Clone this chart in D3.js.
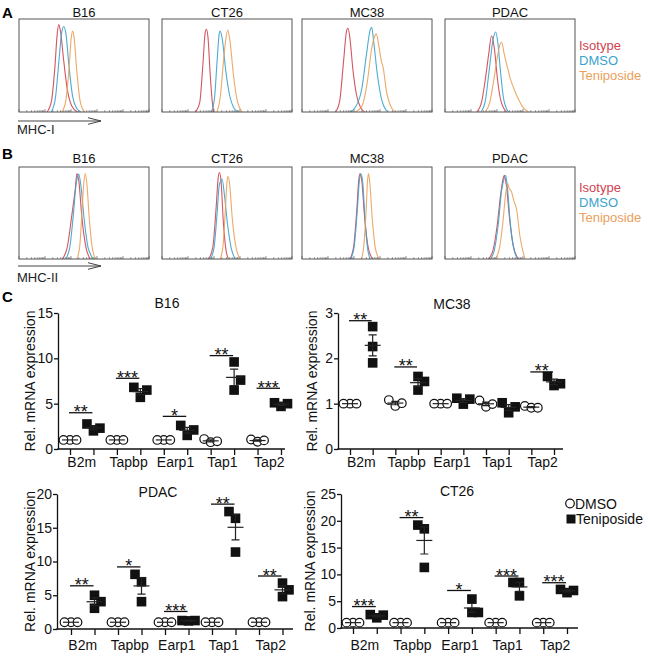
<!DOCTYPE html>
<html><head><meta charset="utf-8">
<script src="https://cdn.jsdelivr.net/npm/d3@7"></script>
<style>
body{margin:0;background:#fff}
svg{display:block}
text{font-family:"Liberation Sans",Arial,Helvetica,sans-serif}
</style>
</head><body>
<svg id="fig" width="650" height="665"></svg>
<script>
// ---------------- DATA ----------------
const cellLines = ["B16","CT26","MC38","PDAC"];
const flowSeries = ["Isotype","DMSO","Teniposide"];
// each curve: [log10 fluorescence, % of max]
const mhcIIsotype = [
  [[1.08,0],[1.25,12],[1.38,48],[1.47,84],[1.53,94],[1.60,86],[1.72,55],[1.86,24],[2.02,7],[2.25,0]],
  [[1.28,0],[1.45,10],[1.57,50],[1.66,85],[1.71,89],[1.77,80],[1.85,42],[1.93,12],[1.99,0]],
  [[1.29,0],[1.45,12],[1.60,55],[1.72,88],[1.77,90],[1.84,80],[1.96,45],[2.10,18],[2.25,5],[2.41,0]],
  [[1.22,0],[1.40,10],[1.55,35],[1.68,62],[1.79,82],[1.90,68],[2.02,35],[2.15,12],[2.37,0]]
];
const mhcIDmso = [
  [[1.24,0],[1.40,15],[1.52,50],[1.64,85],[1.72,92],[1.80,85],[1.92,50],[2.06,17],[2.22,4],[2.38,0]],
  [[1.90,0],[2.02,15],[2.12,55],[2.20,84],[2.24,87],[2.32,78],[2.45,45],[2.60,18],[2.75,5],[2.92,0]],
  [[1.85,0],[2.05,5],[2.30,25],[2.48,62],[2.62,88],[2.68,91],[2.76,75],[2.90,40],[3.05,15],[3.29,0]],
  [[1.38,0],[1.55,12],[1.70,45],[1.85,78],[1.95,86],[2.03,75],[2.13,45],[2.25,15],[2.44,0]]
];
const mhcITeni = [
  [[1.65,0],[1.80,12],[1.92,45],[2.01,80],[2.06,87],[2.12,80],[2.22,45],[2.35,12],[2.45,3],[2.53,0]],
  [[2.12,0],[2.25,18],[2.35,50],[2.44,75],[2.53,88],[2.62,75],[2.74,42],[2.88,14],[3.08,0]],
  [[2.05,0],[2.30,6],[2.50,30],[2.68,68],[2.80,82],[2.86,84],[2.95,72],[3.05,55],[3.12,48],[3.25,22],[3.40,7],[3.57,0]],
  [[1.54,0],[1.72,10],[1.88,35],[2.02,60],[2.12,73],[2.18,75],[2.28,62],[2.40,48],[2.50,37],[2.65,25],[2.82,14],[3.00,5],[3.21,0]]
];
const mhcIIIsotype = [
  [[1.66,0],[1.85,12],[2.02,45],[2.10,62],[2.16,75],[2.23,93],[2.30,85],[2.42,45],[2.58,12],[2.74,0]],
  [[1.79,0],[1.95,12],[2.08,55],[2.16,88],[2.21,94],[2.27,85],[2.36,40],[2.46,10],[2.56,0]],
  [[1.84,0],[1.98,12],[2.10,50],[2.19,88],[2.24,93],[2.30,85],[2.40,48],[2.55,12],[2.72,0]],
  [[1.67,0],[1.85,10],[2.00,35],[2.14,70],[2.24,88],[2.28,91],[2.36,80],[2.48,45],[2.62,15],[2.82,0]]
];
const mhcIIDmso = [
  [[1.79,0],[1.95,12],[2.08,45],[2.20,82],[2.30,92],[2.38,80],[2.50,45],[2.66,12],[2.87,0]],
  [[1.86,0],[2.00,12],[2.12,50],[2.20,80],[2.26,85],[2.31,87],[2.40,70],[2.52,38],[2.66,12],[2.82,0]],
  [[1.86,0],[2.00,12],[2.12,50],[2.22,88],[2.28,92],[2.34,82],[2.42,45],[2.52,12],[2.62,0]],
  [[1.74,0],[1.90,10],[2.05,38],[2.18,75],[2.28,88],[2.33,91],[2.40,78],[2.50,42],[2.64,12],[2.80,0]]
];
const mhcIITeni = [
  [[2.23,0],[2.34,15],[2.43,55],[2.50,85],[2.55,93],[2.61,82],[2.70,45],[2.82,12],[2.93,0]],
  [[2.24,0],[2.35,15],[2.44,55],[2.50,84],[2.54,90],[2.60,82],[2.70,45],[2.85,12],[3.01,0]],
  [[2.28,0],[2.38,15],[2.47,55],[2.52,85],[2.56,93],[2.61,82],[2.70,45],[2.82,12],[2.97,0]],
  [[1.92,0],[2.08,10],[2.22,38],[2.33,70],[2.41,82],[2.48,76],[2.56,73],[2.64,64],[2.76,53],[2.88,25],[3.08,0]]
];

const genes = ["B2m","Tapbp","Earp1","Tap1","Tap2"];
const groups = ["DMSO","Teniposide"];
const exprPanels = ["B16","MC38","PDAC","CT26"];
const exprMax = [15,3,20,25];
const exprStep = [5,1,5,5];

const b16Dmso = [[1,1,1],[1,1,1],[1,1,1],[1.1,0.75,0.85],[1.05,0.8,0.95]];
const b16Teni = [[2.76,2.0,2.3],[6.8,5.7,6.5],[2.6,1.5,2.1],[9.6,6.5,7.6],[5.1,4.7,5.0]];
const b16Sig = ["**","***","*","**","***"];
const b16SigY = [4.0,7.8,3.6,10.3,6.7];

const mc38Dmso = [[1,1,1],[1.08,0.95,1.01],[1,1,1],[1.07,0.93,0.99],[0.95,0.91,0.91]];
const mc38Teni = [[2.7,2.26,1.9],[1.6,1.3,1.49],[1.12,0.99,1.1],[1.02,0.8,0.93],[1.6,1.44,1.4]];
const mc38Sig = ["**","**","","","**"];
const mc38SigY = [2.83,1.81,0,0,1.7];

const pdacDmso = [[1,1,1],[1,1,1],[1,1,1],[1,1,1],[1,1,1]];
const pdacTeni = [[5.0,3.07,4.05],[8.1,7.0,4.05],[1.25,1.2,1.25],[17.4,16.4,11.4],[6.8,5.8,4.8]];
const pdacSig = ["**","*","***","**","**"];
const pdacSigY = [6.4,9.2,2.6,18.5,7.85];

const ct26Dmso = [[1,1,1],[1,1,1],[1,1,1],[1,1,1],[1,1,1]];
const ct26Teni = [[2.5,1.9,2.4],[19.2,18.5,11.3],[5.4,2.9,2.9],[8.5,8.5,6.0],[7.2,6.6,7.0]];
const ct26Sig = ["***","**","*","***","***"];
const ct26SigY = [4.0,20.6,7.0,9.7,8.45];

// ---------------- DRAW ----------------
const svg = d3.select("#fig");
const colors = {Isotype:"#cf4450", DMSO:"#3aa3cc", Teniposide:"#eba05a"};
const FONT = '"Liberation Sans",Arial,sans-serif';

function panelLetter(t, x, y){
  svg.append("text").attr("x",x).attr("y",y).attr("font-size",15).attr("font-weight","bold").text(t);
}
panelLetter("A",2,18); panelLetter("B",2,159); panelLetter("C",2,302);

const flowBoxX = [19,162,302,445], flowW = 130;

function flowRow(y0, h, iso, dmso, teni, titleBase, markerLabel, arrowY, labelBase, legendBase){
  cellLines.forEach((cl,i)=>{
    const g = svg.append("g").attr("transform",`translate(${flowBoxX[i]},${y0})`);
    const x = d3.scaleLinear().domain([0,5]).range([0,flowW]);
    const y = d3.scaleLinear().domain([0,100]).range([h,0]);
    const tv = [];
    for(let d=0; d<5; d++) for(let m=1; m<10; m++) tv.push({v:d+Math.log10(m), major:m===1});
    tv.push({v:5,major:true});
    g.selectAll("line.tk").data(tv).join("line")
      .attr("x1",d=>x(d.v)).attr("x2",d=>x(d.v))
      .attr("y1",h).attr("y2",d=>h-(d.major?3:1.8))
      .attr("stroke","#777").attr("stroke-width",0.8);
    const line = d3.line().x(d=>x(d[0])).y(d=>y(d[1])).curve(d3.curveMonotoneX);
    [[iso[i],colors.Isotype],[dmso[i],colors.DMSO],[teni[i],colors.Teniposide]].forEach(([pts,c])=>{
      g.append("path").attr("d",line(pts)).attr("fill","none").attr("stroke",c).attr("stroke-width",1.1).attr("stroke-opacity",0.9);
    });
    g.append("rect").attr("x",0).attr("y",0).attr("width",flowW).attr("height",h)
      .attr("fill","none").attr("stroke","#555").attr("stroke-width",1);
    svg.append("text").attr("x",flowBoxX[i]+flowW/2).attr("y",titleBase)
      .attr("text-anchor","middle").attr("font-size",13).attr("fill","#111").text(cl);
  });
  svg.append("path").attr("d",`M18,${arrowY}H101M88,${arrowY-3.3}L101,${arrowY}L88,${arrowY+3.3}`)
    .attr("fill","none").attr("stroke","#444").attr("stroke-width",1);
  svg.append("text").attr("x",17).attr("y",labelBase).attr("font-size",13).attr("fill","#222").text(markerLabel);
  flowSeries.forEach((s,k)=>{
    svg.append("text").attr("x",579).attr("y",legendBase+15*k).attr("font-size",13)
      .attr("fill",colors[s]).text(s);
  });
}
flowRow(19, 93, mhcIIsotype, mhcIDmso, mhcITeni, 17, "MHC-I", 121, 134, 50);
flowRow(167, 92, mhcIIIsotype, mhcIIDmso, mhcIITeni, 163, "MHC-II", 266, 282, 192);

// ---------- expression scatter panels ----------
const exprLayout = [
  {axisX:58, xEnd:285, p0:70, p1:281, yTop:313, yBot:449, titleX:167, titleY:308, labY:467, ylabX:35},
  {axisX:338, xEnd:563, p0:350, p1:554, yTop:313, yBot:449, titleX:452, titleY:309, labY:467, ylabX:317},
  {axisX:57, xEnd:293, p0:71, p1:282.5, yTop:494, yBot:629, titleX:158, titleY:497, labY:650, ylabX:35},
  {axisX:341, xEnd:578, p0:353, p1:567, yTop:494, yBot:628, titleX:457, titleY:496, labY:650, ylabX:315}
];
const exprDmso = [b16Dmso, mc38Dmso, pdacDmso, ct26Dmso];
const exprTeni = [b16Teni, mc38Teni, pdacTeni, ct26Teni];
const exprSig = [b16Sig, mc38Sig, pdacSig, ct26Sig];
const exprSigY = [b16SigY, mc38SigY, pdacSigY, ct26SigY];

function dodge(vals, y, thr){
  const idx = vals.map((v,i)=>i).sort((a,b)=>vals[a]-vals[b]);
  const placed=[], off=new Array(vals.length);
  idx.forEach((i,rank)=>{
    const py=y(vals[i]);
    const cands = rank===1 ? [0,1,-1,2,-2] : [0,-1,1,-2,2];
    for(const c of cands){
      if(!placed.some(p=>p.c===c && Math.abs(p.py-py)<thr)){off[i]=c; placed.push({c,py}); break;}
    }
  });
  return off;
}

exprPanels.forEach((name,pi)=>{
  const L = exprLayout[pi];
  const keys = [];
  genes.forEach(gn=>groups.forEach(gr=>keys.push(gn+"|"+gr)));
  const x = d3.scalePoint().domain(keys).range([L.p0,L.p1]);
  const y = d3.scaleLinear().domain([0,exprMax[pi]]).range([L.yBot,L.yTop]);
  const g = svg.append("g");
  const ya = g.append("g").attr("transform",`translate(${L.axisX},0)`)
    .call(d3.axisLeft(y).tickValues(d3.range(0,exprMax[pi]+exprStep[pi]/2,exprStep[pi]))
      .tickFormat(d3.format("d")).tickSize(4).tickSizeOuter(0).tickPadding(1));
  ya.select(".domain").attr("stroke","#111").attr("stroke-width",1.3);
  ya.selectAll(".tick line").attr("stroke","#111").attr("stroke-width",1.3);
  ya.selectAll(".tick text").attr("font-size",14).attr("font-family",FONT).attr("fill","#111");
  const xa = g.append("g").attr("transform",`translate(0,${L.yBot})`)
    .call(d3.axisBottom(x).tickSize(6).tickFormat(""));
  xa.select(".domain").remove();
  xa.selectAll(".tick line").attr("stroke","#111").attr("stroke-width",1.3);
  g.append("line").attr("x1",L.axisX-0.6).attr("x2",L.xEnd).attr("y1",L.yBot).attr("y2",L.yBot)
    .attr("stroke","#111").attr("stroke-width",1.3);
  genes.forEach(gn=>{
    const cx=(x(gn+"|DMSO")+x(gn+"|Teniposide"))/2;
    g.append("text").attr("x",cx).attr("y",L.labY).attr("text-anchor","middle")
      .attr("font-size",14).attr("fill","#111").text(gn);
  });
  g.append("text").attr("x",L.titleX).attr("y",L.titleY).attr("text-anchor","middle")
    .attr("font-size",14).attr("fill","#111").text(name);
  g.append("text").attr("transform",`translate(${L.ylabX},${(L.yTop+L.yBot)/2}) rotate(-90)`)
    .attr("text-anchor","middle").attr("font-size",14).attr("fill","#111").text("Rel. mRNA expression");
  genes.forEach((gn,gi)=>{
    const s=exprSig[pi][gi]; if(!s) return;
    const x0=x(gn+"|DMSO")-1, x1=x(gn+"|Teniposide")-1, yy=y(exprSigY[pi][gi]);
    g.append("line").attr("x1",x0).attr("x2",x1).attr("y1",yy).attr("y2",yy).attr("stroke","#111").attr("stroke-width",1.3);
    g.append("text").attr("x",(x0+x1)/2).attr("y",yy+5.5).attr("text-anchor","middle")
      .attr("font-size",18).attr("fill","#111").text(s);
  });
  const step=6.5;
  genes.forEach((gn,gi)=>{
    [["DMSO",exprDmso[pi][gi]],["Teniposide",exprTeni[pi][gi]]].forEach(([gr,vals])=>{
      const cx=x(gn+"|"+gr);
      const off=dodge(vals,y,10.5);
      vals.forEach((v,k)=>{
        if(gr==="DMSO"){
          g.append("circle").attr("cx",cx+off[k]*step).attr("cy",y(v)).attr("r",4.3)
            .attr("fill","#fff").attr("stroke","#111").attr("stroke-width",1.2);
        } else {
          g.append("rect").attr("x",cx+off[k]*step-4.8).attr("y",y(v)-4.8).attr("width",9.6).attr("height",9.6).attr("fill","#111");
        }
      });
      const m=d3.mean(vals), sem=d3.deviation(vals)/Math.sqrt(vals.length);
      const ym=y(m);
      g.append("line").attr("x1",cx-8).attr("x2",cx+8).attr("y1",ym).attr("y2",ym).attr("stroke","#222").attr("stroke-width",1.2);
      if(sem>0){
        const yt=y(m+sem), yb=y(m-sem);
        g.append("path").attr("d",`M${cx},${yt}V${yb}M${cx-4},${yt}H${cx+4}M${cx-4},${yb}H${cx+4}`)
          .attr("fill","none").attr("stroke","#222").attr("stroke-width",1.2);
      }
    });
  });
});

svg.append("circle").attr("cx",570).attr("cy",503.5).attr("r",4.3).attr("fill","#fff").attr("stroke","#111").attr("stroke-width",1.2);
svg.append("text").attr("x",575).attr("y",508.5).attr("font-size",14).attr("fill","#111").text("DMSO");
svg.append("rect").attr("x",566.5).attr("y",514.5).attr("width",9).attr("height",9).attr("fill","#111");
svg.append("text").attr("x",576).attr("y",524).attr("font-size",14).attr("fill","#111").text("Teniposide");
</script>
</body></html>
